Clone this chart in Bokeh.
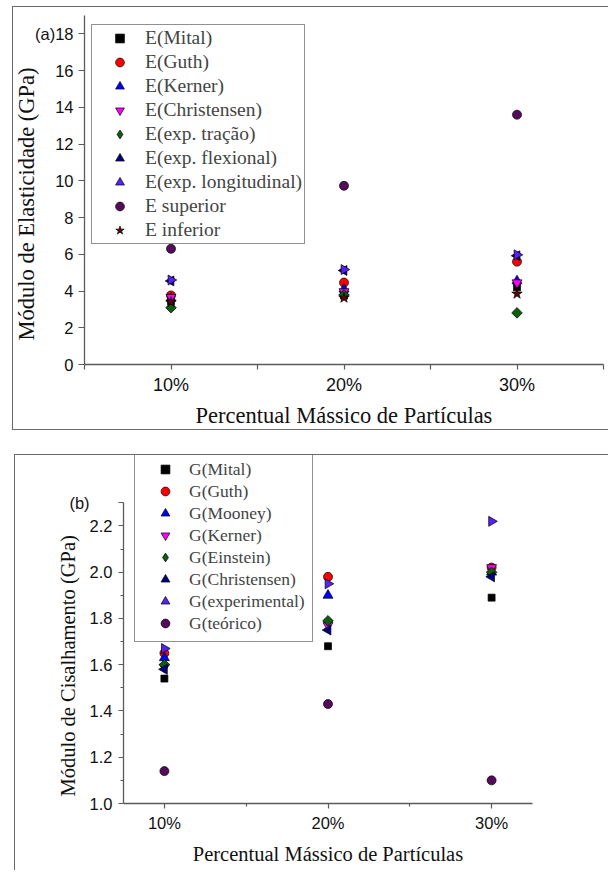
import math
from bokeh.plotting import figure
from bokeh.models import (Legend, LegendItem, FixedTicker, Range1d, ColumnDataSource, Title)
from bokeh.embed import file_html
from bokeh.resources import INLINE

# ---------------- data ----------------
x_pct = [10, 20, 30]
x_tick_labels = ["10%", "20%", "30%"]

# Panel (a): Young's modulus (GPa)
E_names = ["E(Mital)", "E(Guth)", "E(Kerner)", "E(Christensen)", "E(exp. tração)",
           "E(exp. flexional)", "E(exp. longitudinal)", "E superior", "E inferior"]
E_mital = [3.45, 3.75, 4.20]
E_guth = [3.76, 4.46, 5.60]
E_kerner = [3.60, 4.10, 4.55]
E_christensen = [3.66, 3.97, 4.45]
E_tracao = [3.09, 3.79, 2.81]
E_flexional = [4.55, 5.12, 5.92]
E_longitudinal = [4.60, 5.17, 5.97]
E_superior = [6.30, 9.73, 13.60]
E_inferior = [3.40, 3.63, 3.85]
E_series = [E_mital, E_guth, E_kerner, E_christensen, E_tracao,
            E_flexional, E_longitudinal, E_superior, E_inferior]

# Panel (b): shear modulus (GPa)
G_names = ["G(Mital)", "G(Guth)", "G(Mooney)", "G(Kerner)", "G(Einstein)",
           "G(Christensen)", "G(experimental)", "G(teórico)"]
G_mital = [1.54, 1.68, 1.89]
G_guth = [1.65, 1.98, 2.02]
G_mooney = [1.63, 1.90, 2.00]
G_kerner = [1.59, 1.77, 2.02]
G_einstein = [1.60, 1.79, 2.00]
G_christensen = [1.58, 1.75, 1.98]
G_experimental = [1.67, 1.95, 2.22]
G_teorico = [1.14, 1.43, 1.10]
G_series = [G_mital, G_guth, G_mooney, G_kerner, G_einstein,
            G_christensen, G_experimental, G_teorico]

# marker styles: (marker, fill color, size, angle, legend marker or None)
STYLES = [
    ("square", "#000000", 7, 0, None),
    ("circle", "#ff0000", 9, 0, None),
    ("triangle", "#0000ff", 10, 0, None),
    ("inverted_triangle", "#ff00ff", 10, 0, None),
    ("square", "#0d5f0d", 7.5, math.pi / 4, "diamond"),
    ("triangle", "#000080", 10, math.pi / 2, None),
    ("triangle", "#5522f2", 10, -math.pi / 2, None),
    ("circle", "#560a5c", 9, 0, None),
    ("star", "#5c0606", 11, 0, None),
]
G_STYLES = STYLES[:8]

SERIF = "Liberation Serif"
SANS = "Liberation Sans"
AXIS_COLOR = "#5a5a5a"
NB = "\u00a0"


def base_fig(w, h, xr, yr, ml, mr, mt, mb, styles):
    p = figure(width=w, height=h, x_range=xr, y_range=yr, output_backend="svg",
               toolbar_location=None, min_border_left=ml, min_border_right=mr,
               min_border_top=mt, min_border_bottom=mb, styles=styles)
    p.xgrid.visible = False
    p.ygrid.visible = False
    p.outline_line_color = None
    p.background_fill_color = "white"
    p.border_fill_color = "white"
    for ax in (p.xaxis[0], p.yaxis[0]):
        ax.axis_line_color = AXIS_COLOR
        ax.axis_line_width = 1.3
        ax.major_tick_line_color = AXIS_COLOR
        ax.minor_tick_line_color = AXIS_COLOR
        ax.major_tick_line_width = 1.2
        ax.minor_tick_line_width = 1.2
        ax.major_tick_in = 0
        ax.minor_tick_in = 0
        ax.major_label_text_font = SANS
        ax.major_label_text_color = "#111111"
        ax.axis_label_text_font = SERIF
        ax.axis_label_text_font_style = "normal"
        ax.axis_label_text_color = "#111111"
    return p


def add_series(p, names, series, styles):
    items = []
    for name, ys, (mk, col, sz, ang, leg_mk) in zip(names, series, styles):
        src = ColumnDataSource(dict(x=x_pct, y=ys))
        r = p.scatter("x", "y", source=src, marker=mk, size=sz, angle=ang,
                      fill_color=col, line_color="#000000", line_width=0.7)
        if leg_mk is not None:
            # legend-only swatch (an undefined, never drawn point)
            r = p.scatter(x=[float("nan")], y=[float("nan")], marker=leg_mk, size=sz,
                          fill_color=col, line_color="#000000", line_width=0.7)
        items.append(LegendItem(label=name, renderers=[r]))
    return items


def y_title(text, size, offset, standoff):
    return Title(text=text, align="left", offset=offset, vertical_align="bottom",
                 standoff=standoff, text_font=SERIF, text_font_size=size,
                 text_font_style="normal", text_color="#111111")


BORDER = "1px solid #6a6a6a"

# ---------------- panel (a) ----------------
# canvas origin on the page: (13, 7)
p1 = base_fig(596, 424, Range1d(5, 35), Range1d(0, 19), 71, 6, 8, 67,
              {"margin-left": "12px", "margin-top": "6px",
               "border-left": BORDER, "border-top": BORDER, "border-bottom": BORDER})
p1.xaxis[0].ticker = FixedTicker(ticks=[5, 10, 15, 20, 25, 30, 35], minor_ticks=[])
p1.xaxis[0].major_label_overrides = {5: "", 10: x_tick_labels[0], 15: "", 20: x_tick_labels[1],
                                     25: "", 30: x_tick_labels[2], 35: ""}
p1.xaxis[0].major_tick_out = 5
p1.xaxis[0].minor_tick_out = 0
p1.xaxis[0].major_label_standoff = 5
p1.xaxis[0].major_label_text_font_size = "18px"
p1.xaxis[0].axis_label = "Percentual Mássico de Partículas"
p1.xaxis[0].axis_label_text_font_size = "22.5px"
p1.xaxis[0].axis_label_standoff = 5
p1.yaxis[0].ticker = FixedTicker(ticks=list(range(0, 19, 2)), minor_ticks=[])
p1.yaxis[0].major_label_overrides = {18: "(a)18"}
p1.yaxis[0].major_tick_out = 6
p1.yaxis[0].minor_tick_out = 0
p1.yaxis[0].major_label_standoff = 5
p1.yaxis[0].major_label_text_font_size = "16.5px"
p1.add_layout(y_title("Módulo de Elasticidade (GPa)", "22.5px", 24, -14), "left")

items1 = add_series(p1, E_names, E_series, STYLES)
leg1 = Legend(items=items1, location=(7, 120), padding=2, spacing=2,
              glyph_width=51, glyph_height=22, label_height=22, label_standoff=0,
              label_text_font=SERIF, label_text_font_size="19.5px",
              border_line_color="#222222", border_line_width=1,
              background_fill_alpha=1, margin=0)
p1.add_layout(leg1, "center")

# ---------------- panel (b) ----------------
# canvas origin on the page: (15, 457)
p2 = base_fig(594, 416, Range1d(7.5, 32.5), Range1d(1.0, 2.5046), 108, 77, 0, 68,
              {"margin-left": "14px", "margin-top": "24px",
               "border-left": BORDER, "border-top": BORDER})
p2.xaxis[0].ticker = FixedTicker(ticks=[10, 20, 30], minor_ticks=[15, 25])
p2.xaxis[0].major_label_overrides = {10: x_tick_labels[0], 20: x_tick_labels[1], 30: x_tick_labels[2]}
p2.xaxis[0].major_tick_out = 5
p2.xaxis[0].minor_tick_out = 3
p2.xaxis[0].major_label_standoff = 5
p2.xaxis[0].major_label_text_font_size = "16.5px"
p2.xaxis[0].axis_label = "Percentual Mássico de Partículas"
p2.xaxis[0].axis_label_text_font_size = "20.5px"
p2.xaxis[0].axis_label_standoff = 8
p2.yaxis[0].bounds = (1.0, 2.3)
p2.yaxis[0].ticker = FixedTicker(ticks=[1.0, 1.2, 1.4, 1.6, 1.8, 2.0, 2.2, 2.3],
                                 minor_ticks=[1.1, 1.3, 1.5, 1.7, 1.9, 2.1])
p2.yaxis[0].major_label_overrides = {1.0: "1.0", 2.0: "2.0", 2.3: "(b)" + NB * 5}
p2.yaxis[0].major_tick_out = 5
p2.yaxis[0].minor_tick_out = 3
p2.yaxis[0].major_label_standoff = 6
p2.yaxis[0].major_label_text_font_size = "16.5px"
p2.add_layout(y_title("Módulo de Cisalhamento (GPa)", "20.5px", 7, -25), "left")

items2 = add_series(p2, G_names, G_series, G_STYLES)
leg2 = Legend(items=items2, location=(11, 161), padding=7, spacing=0,
              glyph_width=46, glyph_height=22, label_height=22, label_standoff=1,
              label_text_font=SERIF, label_text_font_size="17.5px",
              border_line_color="#222222", border_line_width=1,
              background_fill_alpha=1, margin=0)
p2.add_layout(leg2, "center")

open("out.html", "w").write(file_html([p1, p2], INLINE))
